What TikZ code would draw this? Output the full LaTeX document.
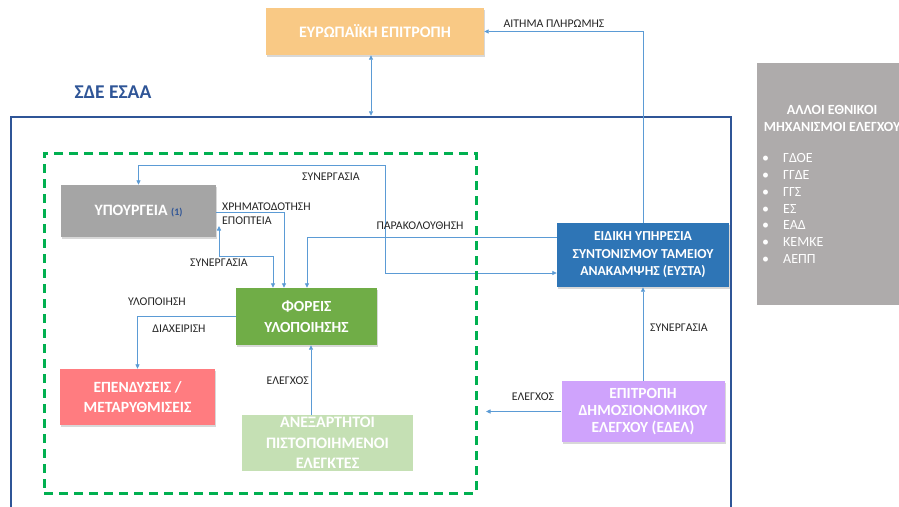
\documentclass[tikz,border=0pt]{standalone}
\usepackage{fontspec}
\setmainfont{Carlito}
\usetikzlibrary{arrows.meta,shadows}
\definecolor{euorange}{HTML}{F9C985}
\definecolor{mingray}{HTML}{A5A5A5}
\definecolor{foreisgreen}{HTML}{70AD47}
\definecolor{ependred}{HTML}{FF7C80}
\definecolor{anexgreen}{HTML}{C5E0B4}
\definecolor{eystablue}{HTML}{2E75B6}
\definecolor{edelviolet}{HTML}{CFA3FC}
\definecolor{othergray}{HTML}{AEABAB}
\definecolor{linkblue}{HTML}{5B9BD5}
\definecolor{framblue}{HTML}{2F5597}
\definecolor{dashgreen}{HTML}{00B050}
\begin{document}
\begin{tikzpicture}[x=1pt, y=-1pt,
        >={Triangle[length=4.5pt,width=4pt]},
        link/.style={draw=linkblue, line width=0.8pt},
        box/.style={text=white, align=center, inner sep=0pt},
        shade/.style={drop shadow={shadow xshift=1.2pt, shadow yshift=-1.6pt, opacity=0.3}},
        lbl/.style={font=\fontsize{11.8}{13}\selectfont, text=black!85, inner sep=0pt}]
            \clip (0,0) rectangle (899,506);
            \fill[white] (0,0) rectangle (899,506);

            % frame and title
            \node(sde) at (371,312.5) [draw=framblue, line width=2.5pt, minimum width=720pt, minimum height=391pt] {};
            \node(sde_title) at (113,92) [text=framblue, font=\fontsize{19.5}{21}\selectfont\bfseries] {ΣΔΕ ΕΣΑΑ};

            % boxes
            \node(eu) at (375,31.5) [box, shade, fill=euorange, minimum width=218pt, minimum height=47pt, font=\fontsize{16}{19}\selectfont\bfseries] {ΕΥΡΩΠΑΪΚΗ ΕΠΙΤΡΟΠΗ};
            \node(ypourgeia) at (138.5,211) [box, shade, fill=mingray, minimum width=155pt, minimum height=52pt, font=\fontsize{15.8}{18}\selectfont\bfseries] {ΥΠΟΥΡΓΕΙΑ \textcolor{framblue}{\fontsize{10}{11}\selectfont(1)}};
            \node(foreis) at (306.5,316.5) [box, shade, fill=foreisgreen, minimum width=141pt, minimum height=57pt, font=\fontsize{15.4}{20.5}\selectfont\bfseries] {ΦΟΡΕΙΣ\\ΥΛΟΠΟΙΗΣΗΣ};
            \node(ependyseis) at (137.5,397) [box, shade, fill=ependred, minimum width=155pt, minimum height=56pt, font=\fontsize{15.6}{20.5}\selectfont\bfseries] {ΕΠΕΝΔΥΣΕΙΣ /\\ΜΕΤΑΡΥΘΜΙΣΕΙΣ};
            \node(anex) at (327.5,443) [box, fill=anexgreen, minimum width=171pt, minimum height=56pt, font=\fontsize{16}{20.5}\selectfont\bfseries] {ΑΝΕΞΑΡΤΗΤΟΙ\\ΠΙΣΤΟΠΟΙΗΜΕΝΟΙ\\ΕΛΕΓΚΤΕΣ};
            \node(eysta) at (643,255) [box, shade, fill=eystablue, minimum width=172pt, minimum height=64pt, font=\fontsize{13.7}{17.5}\selectfont\bfseries] {ΕΙΔΙΚΗ ΥΠΗΡΕΣΙΑ\\ΣΥΝΤΟΝΙΣΜΟΥ ΤΑΜΕΙΟΥ\\ΑΝΑΚΑΜΨΗΣ (ΕΥΣΤΑ)};
            \node(edel) at (643,411.5) [box, shade, fill=edelviolet, minimum width=163pt, minimum height=61pt, font=\fontsize{15.5}{17}\selectfont\bfseries] {ΕΠΙΤΡΟΠΗ\\ΔΗΜΟΣΙΟΝΟΜΙΚΟΥ\\ΕΛΕΓΧΟΥ (ΕΔΕΛ)};
            \node(alloi) at (833,184) [fill=othergray, minimum width=152pt, minimum height=242pt] {};
            \node(alloi_title) at (832,118.5) [box, font=\fontsize{14}{17}\selectfont\bfseries] {ΑΛΛΟΙ ΕΘΝΙΚΟΙ\\ΜΗΧΑΝΙΣΜΟΙ ΕΛΕΓΧΟΥ};
            \node(alloi_list) at (762,208.5) [anchor=west, text=white, align=left, inner sep=0pt, font=\fontsize{14}{16.8}\selectfont] {\textbullet\hspace{14pt}ΓΔΟΕ\\\textbullet\hspace{14pt}ΓΓΔΕ\\\textbullet\hspace{14pt}ΓΓΣ\\\textbullet\hspace{14pt}ΕΣ\\\textbullet\hspace{14pt}ΕΑΔ\\\textbullet\hspace{14pt}ΚΕΜΚΕ\\\textbullet\hspace{14pt}ΑΕΠΠ};

            \coordinate(syn_tip) at (219,226);
            \coordinate(ctrl_tip) at (486,411.5);

            % connectors
            \draw[link, ->] (eysta.north) |- (eu.east);
            \draw[link, <->] (sde.north |- eu.south) -- (sde.north);
            \draw[link, <->] ([yshift=-18pt]eysta.west) -| (385,165) -| (ypourgeia.north);
            \draw[link, ->] ([yshift=18pt]eysta.west) -| ([xshift=0.5pt]foreis.north);
            \draw[link, ->] ([yshift=-1pt]ypourgeia.east) -| ([xshift=-22.5pt]foreis.north);
            \draw[link, <->] ([xshift=-33.5pt]foreis.north) |- (219,256) -- (syn_tip);
            \draw[link, ->] (foreis.west) -| (ependyseis.north);
            \draw[link, ->] ([xshift=-16.5pt]anex.north) -- ([xshift=-16.5pt]anex.north |- foreis.south);
            \draw[link, ->] (edel.west) -- (ctrl_tip);
            \draw[link, ->] (edel.north) -- (eysta.south);

            % labels
            \node(lbl_aitima) at (554,24) [lbl] {ΑΙΤΗΜΑ ΠΛΗΡΩΜΗΣ};
            \node(lbl_syn_top) at (331,177) [lbl] {ΣΥΝΕΡΓΑΣΙΑ};
            \node(lbl_xrim) at (222,207) [lbl, anchor=west] {ΧΡΗΜΑΤΟΔΟΤΗΣΗ};
            \node(lbl_epopt) at (222,221) [lbl, anchor=west] {ΕΠΟΠΤΕΙΑ};
            \node(lbl_syn_mid) at (219,263) [lbl] {ΣΥΝΕΡΓΑΣΙΑ};
            \node(lbl_parak) at (420,226) [lbl] {ΠΑΡΑΚΟΛΟΥΘΗΣΗ};
            \node(lbl_ylop) at (157,302) [lbl] {ΥΛΟΠΟΙΗΣΗ};
            \node(lbl_diax) at (179,329) [lbl] {ΔΙΑΧΕΙΡΙΣΗ};
            \node(lbl_elegx_mid) at (309,381) [lbl, anchor=east] {ΕΛΕΓΧΟΣ};
            \node(lbl_elegx_right) at (533,397) [lbl] {ΕΛΕΓΧΟΣ};
            \node(lbl_syn_right) at (679,328) [lbl] {ΣΥΝΕΡΓΑΣΙΑ};

            % dashed area
            \node(sse_area) at (260,323) [draw=dashgreen, line width=3pt, dash pattern=on 9pt off 6pt, minimum width=432pt, minimum height=340pt] {};
        \end{tikzpicture}
\end{document}
